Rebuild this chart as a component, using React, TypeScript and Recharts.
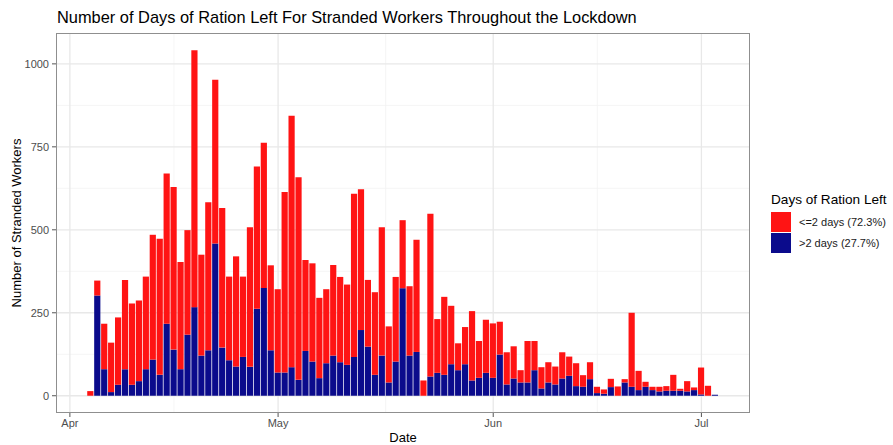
import { Bar, BarChart, CartesianGrid, XAxis, YAxis } from 'recharts';

// one bar per day, Apr 4 to Jul 3 2020
const dates = [
  '2020-04-04', '2020-04-05', '2020-04-06', '2020-04-07', '2020-04-08', '2020-04-09', '2020-04-10',
  '2020-04-11', '2020-04-12', '2020-04-13', '2020-04-14', '2020-04-15', '2020-04-16', '2020-04-17',
  '2020-04-18', '2020-04-19', '2020-04-20', '2020-04-21', '2020-04-22', '2020-04-23', '2020-04-24',
  '2020-04-25', '2020-04-26', '2020-04-27', '2020-04-28', '2020-04-29', '2020-04-30',
  '2020-05-01', '2020-05-02', '2020-05-03', '2020-05-04', '2020-05-05', '2020-05-06', '2020-05-07',
  '2020-05-08', '2020-05-09', '2020-05-10', '2020-05-11', '2020-05-12', '2020-05-13', '2020-05-14',
  '2020-05-15', '2020-05-16', '2020-05-17', '2020-05-18', '2020-05-19', '2020-05-20', '2020-05-21',
  '2020-05-22', '2020-05-23', '2020-05-24', '2020-05-25', '2020-05-26', '2020-05-27', '2020-05-28',
  '2020-05-29', '2020-05-30', '2020-05-31',
  '2020-06-01', '2020-06-02', '2020-06-03', '2020-06-04', '2020-06-05', '2020-06-06', '2020-06-07',
  '2020-06-08', '2020-06-09', '2020-06-10', '2020-06-11', '2020-06-12', '2020-06-13', '2020-06-14',
  '2020-06-15', '2020-06-16', '2020-06-17', '2020-06-18', '2020-06-19', '2020-06-20', '2020-06-21',
  '2020-06-22', '2020-06-23', '2020-06-24', '2020-06-25', '2020-06-26', '2020-06-27', '2020-06-28',
  '2020-06-29', '2020-06-30',
  '2020-07-01', '2020-07-02', '2020-07-03'
];

// workers with <=2 days of ration left
const upToTwoDays = [
  14, 45, 137, 149, 203, 269, 245, 243, 279, 376, 410, 453, 490, 323, 315, 774, 304, 446, 493, 421,
  252, 332, 242, 421, 429, 437, 256,
  251, 544, 758, 610, 274, 296, 242, 223, 273, 257, 242, 492, 424, 201, 249, 387, 169, 255, 205, 209,
  338, 46, 490, 162, 235, 176, 81, 112, 209, 111, 160,
  164, 99, 97, 97, 37, 125, 88, 64, 61, 54, 79, 58, 69, 35, 51, 19, 13, 25, 28, 10, 223, 58, 15, 10,
  14, 14, 48, 6, 31, 8,
  81, 30, 0
];

// workers with >2 days of ration left
const moreThanTwoDays = [
  0, 302, 80, 11, 33, 80, 33, 44, 80, 109, 63, 217, 139, 80, 184, 267, 121, 137, 459, 145, 107, 88,
  117, 87, 262, 325, 137,
  70, 70, 86, 48, 135, 103, 53, 98, 121, 101, 93, 117, 198, 148, 63, 121, 40, 103, 324, 121, 132, 0,
  58, 69, 63, 95, 77, 95, 46, 54, 69,
  54, 124, 34, 52, 40, 40, 77, 22, 40, 34, 52, 60, 29, 27, 50, 8, 6, 26, 0, 40, 27, 17, 27, 17, 13,
  15, 15, 15, 13, 17,
  4, 0, 3
];

const xTicks = [0, 30, 61, 91];
const xTickLabels = ['Apr', 'May', 'Jun', 'Jul'];
const xMinor = [15, 45.5, 76];
const yTicks = [0, 250, 500, 750, 1000];
const yMinor = [125, 375, 625, 875];

const legendItems = ['<=2 days (72.3%)', '>2 days (27.7%)'];

const RED = '#ff1414';
const BLUE = '#0b0b8c';
const FONT = '"Liberation Sans", Arial, Helvetica, sans-serif';

const start = Date.UTC(2020, 3, 1);
const data = dates.map((d, i) => {
  const [y, m, dd] = d.split('-').map(Number);
  return {
    day: (Date.UTC(y, m - 1, dd) - start) / 86400000,
    low: upToTwoDays[i],
    high: moreThanTwoDays[i]
  };
});

const LegendBox = () => (
  <div style={{ position: 'absolute', left: 771, top: 192, fontFamily: FONT, color: '#000' }}>
    <div style={{ fontSize: 13.6, lineHeight: '15px', marginBottom: 4, whiteSpace: 'nowrap' }}>Days of Ration Left</div>
    {[RED, BLUE].map((c, i) => (
      <div key={c} style={{ display: 'flex', alignItems: 'center', height: 21.5 }}>
        <div style={{ width: 20, height: 20, background: c }} />
        <span style={{ fontSize: 11, marginLeft: 8, color: '#1a1a1a', whiteSpace: 'nowrap' }}>{legendItems[i]}</span>
      </div>
    ))}
  </div>
);

export default function App() {
  return (
    <div style={{ position: 'absolute', left: 0, top: 0, width: 893, height: 445, background: '#fff', fontFamily: FONT }}>
      <div style={{ position: 'absolute', left: 57, top: 8, fontSize: 16.4, whiteSpace: 'nowrap', color: '#000' }}>
        Number of Days of Ration Left For Stranded Workers Throughout the Lockdown
      </div>
      <div
        style={{
          position: 'absolute',
          left: 16,
          top: 223,
          fontSize: 13,
          whiteSpace: 'nowrap',
          transform: 'translate(-50%, -50%) rotate(-90deg)'
        }}
      >
        Number of Stranded Workers
      </div>
      <div style={{ position: 'absolute', left: 403, top: 437, fontSize: 13, transform: 'translate(-50%, -50%)' }}>
        Date
      </div>
      <BarChart width={893} height={445} data={data} margin={{ top: 33, right: 143, bottom: 0, left: 0 }}>
        <CartesianGrid
          horizontalValues={yMinor}
          verticalValues={xMinor}
          stroke="#f2f2f2"
          strokeWidth={0.8}
        />
        <CartesianGrid
          horizontalValues={yTicks}
          verticalValues={xTicks}
          stroke="#e8e8e8"
          strokeWidth={1.3}
        />
        <XAxis
          dataKey="day"
          type="number"
          domain={[-2, 98]}
          ticks={xTicks}
          tickFormatter={(v) => xTickLabels[xTicks.indexOf(v)]}
          height={32}
          tickSize={4}
          tickMargin={2}
          axisLine={false}
          tickLine={{ stroke: '#555' }}
          tick={{ fill: '#4d4d4d', fontSize: 11, fontFamily: FONT }}
          allowDataOverflow
        />
        <YAxis
          type="number"
          domain={[-52, 1093]}
          ticks={yTicks}
          width={56}
          tickSize={4}
          tickMargin={3}
          axisLine={false}
          tickLine={{ stroke: '#555' }}
          tick={{ fill: '#4d4d4d', fontSize: 11, fontFamily: FONT }}
          allowDataOverflow
        />
        <Bar dataKey="high" stackId="a" fill={BLUE} barSize={6.2} isAnimationActive={false} />
        <Bar dataKey="low" stackId="a" fill={RED} barSize={6.2} isAnimationActive={false} />
      </BarChart>
      <LegendBox />
      <div
        style={{
          position: 'absolute',
          left: 56,
          top: 33,
          width: 694,
          height: 380,
          boxSizing: 'border-box',
          border: '1px solid #8f8f8f',
          pointerEvents: 'none'
        }}
      />
    </div>
  );
}
